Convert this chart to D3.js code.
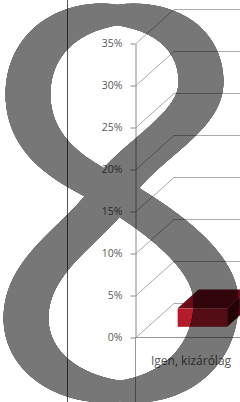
<!DOCTYPE html>
<html>
<head>
<meta charset="utf-8">
<script src="https://cdn.jsdelivr.net/npm/d3@7"></script>
<style>
html, body { margin: 0; padding: 0; background: #fff; overflow: hidden; }
</style>
</head>
<body>
<div id="chart"></div>
<script>
const categories = ['Igen, kizárólag'];
const values = [0.022];
const yTicks = [0, 0.05, 0.10, 0.15, 0.20, 0.25, 0.30, 0.35];

// centre line of the big "8" laid over the chart: [x1,y1, x2,y2, x,y] cubic pieces
const eightStart = [112, 192];
const eightCurves = [
	[82, 175, 28, 152, 28, 94],
	[28, 45, 68, 15, 117, 15],
	[165, 15, 201, 40, 201, 82],
	[201, 124, 134, 153, 112, 192],
	[90, 231, 26, 262, 26, 318],
	[26, 362, 70, 391, 120, 391],
	[175, 391, 216, 355, 216, 302],
	[216, 255, 142, 210, 112, 192]
];

const width = 240,
	height = 402,
	depthX = 38,
	depthY = -34;

const svg = d3.select('#chart').append('svg').attr('width', width).attr('height', height);

let y = d3.scaleLinear().domain([0, 0.35]).range([337, 43]);
let x = d3.scaleBand().domain(categories).range([136, 246]);
let fmt = d3.format('.0%');

// side wall + back wall gridlines
svg.append('g').selectAll('path').data(yTicks).enter().append('path')
	.attr('fill', 'none')
	.attr('stroke', '#aaa')
	.attr('stroke-width', 1)
	.attr('d', d => `M136,${y(d) + 0.5}L${136 + depthX},${y(d) + depthY + 0.5}L${width},${y(d) + depthY + 0.5}`);

// floor front edge
svg.append('line')
	.attr('x1', 136).attr('x2', width)
	.attr('y1', y(0) + 0.5).attr('y2', y(0) + 0.5)
	.attr('stroke', '#999');

// value axis
let axis = svg.append('g').attr('transform', 'translate(135.5,0.5)')
	.call(d3.axisLeft(y).tickValues(yTicks).tickFormat(fmt).tickSize(5).tickSizeOuter(0).tickPadding(8));
axis.select('.domain').attr('stroke', '#888');
axis.selectAll('.tick line').attr('stroke', '#888');
axis.selectAll('.tick text')
	.attr('fill', '#595959')
	.style('font-family', '"Open Sans", sans-serif')
	.style('font-size', '10.5px');

// category axis line continues below the floor
svg.append('line')
	.attr('x1', 135.5).attr('x2', 135.5)
	.attr('y1', y(0)).attr('y2', height)
	.attr('stroke', '#999');

// 3d bar
let d0 = 0.3, d1 = 0.85;
let bw = x.bandwidth() * 0.45;
let bars = svg.append('g').selectAll('g').data(values).enter().append('g');
let fx = (d, i) => x(categories[i]) + (x.bandwidth() - bw) / 2 + d0 * depthX;
let fy = d => y(d) + d0 * depthY;
let base = y(0) + d0 * depthY;
let dd = d1 - d0;

bars.append('path')
	.attr('fill', '#4e0710')
	.attr('d', (d, i) => `M${fx(d, i) + bw},${base}L${fx(d, i) + bw + dd * depthX},${base + dd * depthY}L${fx(d, i) + bw + dd * depthX},${fy(d) + dd * depthY}L${fx(d, i) + bw},${fy(d)}Z`);
bars.append('path')
	.attr('fill', '#6b0b1a')
	.attr('d', (d, i) => `M${fx(d, i)},${fy(d)}L${fx(d, i) + dd * depthX},${fy(d) + dd * depthY}L${fx(d, i) + bw + dd * depthX},${fy(d) + dd * depthY}L${fx(d, i) + bw},${fy(d)}Z`);
bars.append('rect')
	.attr('fill', '#b41c2c')
	.attr('x', (d, i) => fx(d, i))
	.attr('y', d => fy(d))
	.attr('width', bw)
	.attr('height', d => base - fy(d));

// category labels
svg.append('g').selectAll('text').data(categories).enter().append('text')
	.attr('x', d => x(d) + x.bandwidth() / 2)
	.attr('y', 365)
	.attr('text-anchor', 'middle')
	.attr('fill', '#595959')
	.style('font-family', '"Open Sans", sans-serif')
	.style('font-size', '12px')
	.text(d => d);

// frame line on the left
svg.append('line')
	.attr('x1', 67.5).attr('x2', 67.5)
	.attr('y1', 0).attr('y2', height)
	.attr('stroke', '#555');

// the "8": pen-like stroke, thick when going up/down, thin when going across
let p = d3.path();
p.moveTo(eightStart[0], eightStart[1]);
eightCurves.forEach(c => p.bezierCurveTo(...c));
let guide = svg.append('path').attr('d', p.toString()).attr('fill', 'none').attr('stroke', 'none');
let len = guide.node().getTotalLength();
let pts = d3.range(0, len, 0.6).map(s => {
	let a = guide.node().getPointAtLength(Math.max(0, s - 1)),
		b = guide.node().getPointAtLength(Math.min(len, s + 1)),
		c = guide.node().getPointAtLength(s);
	let sin = Math.abs(b.y - a.y) / Math.hypot(b.x - a.x, b.y - a.y);
	return {x: c.x, y: c.y, r: (20 + 25 * Math.pow(sin, 0.8)) / 2};
});
guide.remove();

svg.append('g').attr('opacity', 0.53)
	.selectAll('circle').data(pts).enter().append('circle')
	.attr('cx', d => d.x)
	.attr('cy', d => d.y)
	.attr('r', d => d.r)
	.attr('fill', '#000');
</script>
</body>
</html>
